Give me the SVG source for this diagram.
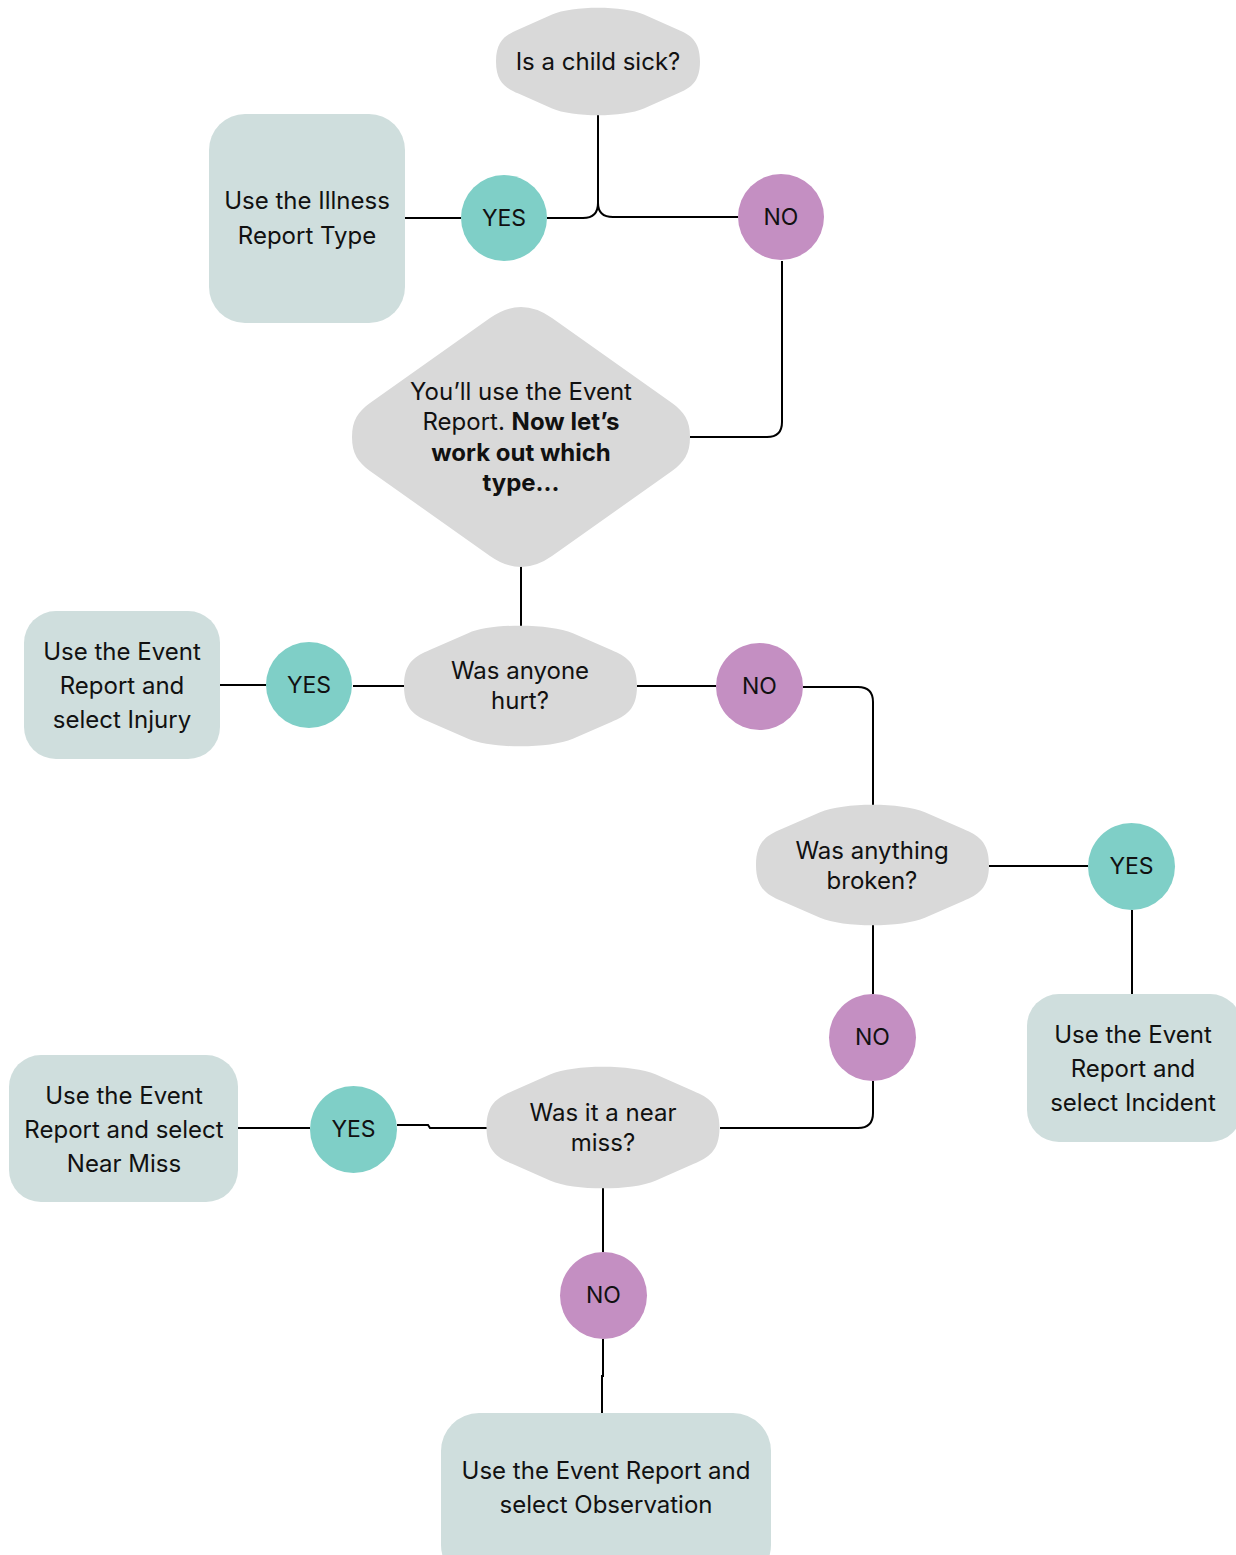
<svg xmlns="http://www.w3.org/2000/svg" width="1236" height="1555" viewBox="0 0 1236 1555">
<style>
  .dec { fill: #D9D9D9; }
  .box { fill: #CFDEDD; }
  .yes { fill: #7FCFC7; }
  .no { fill: #C48FC2; }
  .conn { fill: none; stroke: #000; stroke-width: 2; }
  text { font-family: "Inter", "Liberation Sans", sans-serif; font-size: 24px; fill: #111; text-anchor: middle; }
  .b { font-weight: 700; }
  .c { font-size: 23px; }
</style>
<defs>
  <path id="decShape" d="M -100,0 C -100,-20 -90,-25 -78,-30 L -45,-44 C -25.2,-52.4 25.2,-52.4 45,-44 L 78,-30 C 90,-25 100,-20 100,0 C 100,20 90,25 78,30 L 45,44 C 25.2,52.4 -25.2,52.4 -45,44 L -78,30 C -90,25 -100,20 -100,0 Z"/>
</defs>
<rect width="1236" height="1555" fill="#fff"/>
<g id="connectors">
  <path class="conn" d="M598,115 V203 Q598,218 583,218 H547"/>
  <path class="conn" d="M598,203 Q598,217 613,217 H738"/>
  <path class="conn" d="M405,218 H461"/>
  <path class="conn" d="M782,261 V422 Q782,437 767,437 H690"/>
  <path class="conn" d="M521,565 V626"/>
  <path class="conn" d="M220,685 H266"/>
  <path class="conn" d="M353,686 H404"/>
  <path class="conn" d="M637,686 H716"/>
  <path class="conn" d="M803,687 H858 Q873,687 873,702 V805"/>
  <path class="conn" d="M989,866 H1088"/>
  <path class="conn" d="M1132,910 V994"/>
  <path class="conn" d="M873,925 V994"/>
  <path class="conn" d="M873,1081 V1113 Q873,1128 858,1128 H720"/>
  <path class="conn" d="M487,1128 H430 L428,1125 H397"/>
  <path class="conn" d="M238,1128 H310"/>
  <path class="conn" d="M603,1188 V1252"/>
  <path class="conn" d="M603,1339 V1376 H602 V1413"/>
</g>
<g id="q-sick">
  <use href="#decShape" class="dec" transform="translate(598,61.5) scale(1.02,1.07)"/>
  <text x="598" y="70">Is a child sick?</text>
</g>
<g id="illness">
  <rect class="box" x="209" y="114" width="196" height="209" rx="36"/>
  <text x="307" y="209">Use the Illness</text>
  <text x="307" y="244">Report Type</text>
</g>
<g id="yes1">
  <circle class="yes" cx="504" cy="218" r="43"/>
  <text class="c" x="504" y="226">YES</text>
</g>
<g id="no1">
  <circle class="no" cx="781" cy="217" r="43"/>
  <text class="c" x="781" y="225">NO</text>
</g>
<g id="event-report">
  <path class="dec" d="M352,437 C352,420 358,412 370,403 L490,318 Q521,296 552,318 L672,403 C684,412 690,420 690,437 C690,454 684,462 672,471 L552,556 Q521,578 490,556 L370,471 C358,462 352,454 352,437 Z"/>
  <text x="521" y="400">You’ll use the Event</text>
  <text x="521" y="430">Report. <tspan class="b">Now let’s</tspan></text>
  <text class="b" x="521" y="461">work out which</text>
  <text class="b" x="521" y="491">type...</text>
</g>
<g id="injury">
  <rect class="box" x="24" y="611" width="196" height="148" rx="32"/>
  <text x="122" y="660">Use the Event</text>
  <text x="122" y="694">Report and</text>
  <text x="122" y="728">select Injury</text>
</g>
<g id="yes2">
  <circle class="yes" cx="309" cy="685" r="43"/>
  <text class="c" x="309" y="693">YES</text>
</g>
<g id="q-hurt">
  <use href="#decShape" class="dec" transform="translate(520.5,686) scale(1.165,1.2)"/>
  <text x="520" y="679">Was anyone</text>
  <text x="520" y="709">hurt?</text>
</g>
<g id="no2">
  <circle class="no" cx="759.5" cy="686.5" r="43.5"/>
  <text class="c" x="759.5" y="694">NO</text>
</g>
<g id="q-broken">
  <use href="#decShape" class="dec" transform="translate(872.5,865) scale(1.165,1.2)"/>
  <text x="872" y="859">Was anything</text>
  <text x="872" y="889">broken?</text>
</g>
<g id="yes3">
  <circle class="yes" cx="1131.5" cy="866.5" r="43.5"/>
  <text class="c" x="1131.5" y="874">YES</text>
</g>
<g id="incident">
  <rect class="box" x="1027" y="994" width="215" height="148" rx="32"/>
  <text x="1133" y="1043">Use the Event</text>
  <text x="1133" y="1077">Report and</text>
  <text x="1133" y="1111">select Incident</text>
</g>
<g id="no3">
  <circle class="no" cx="872.5" cy="1037.5" r="43.5"/>
  <text class="c" x="872.5" y="1045">NO</text>
</g>
<g id="q-nearmiss">
  <use href="#decShape" class="dec" transform="translate(603,1127.5) scale(1.165,1.21)"/>
  <text x="603" y="1121">Was it a near</text>
  <text x="603" y="1151">miss?</text>
</g>
<g id="yes4">
  <circle class="yes" cx="353.5" cy="1129.5" r="43.5"/>
  <text class="c" x="353.5" y="1137">YES</text>
</g>
<g id="nearmiss">
  <rect class="box" x="9" y="1055" width="229" height="147" rx="32"/>
  <text x="124" y="1104">Use the Event</text>
  <text x="124" y="1138">Report and select</text>
  <text x="124" y="1172">Near Miss</text>
</g>
<g id="no4">
  <circle class="no" cx="603.5" cy="1295.5" r="43.5"/>
  <text class="c" x="603.5" y="1303">NO</text>
</g>
<g id="observation">
  <rect class="box" x="441" y="1413" width="330" height="170" rx="38"/>
  <text x="606" y="1479">Use the Event Report and</text>
  <text x="606" y="1513">select Observation</text>
</g>
</svg>
